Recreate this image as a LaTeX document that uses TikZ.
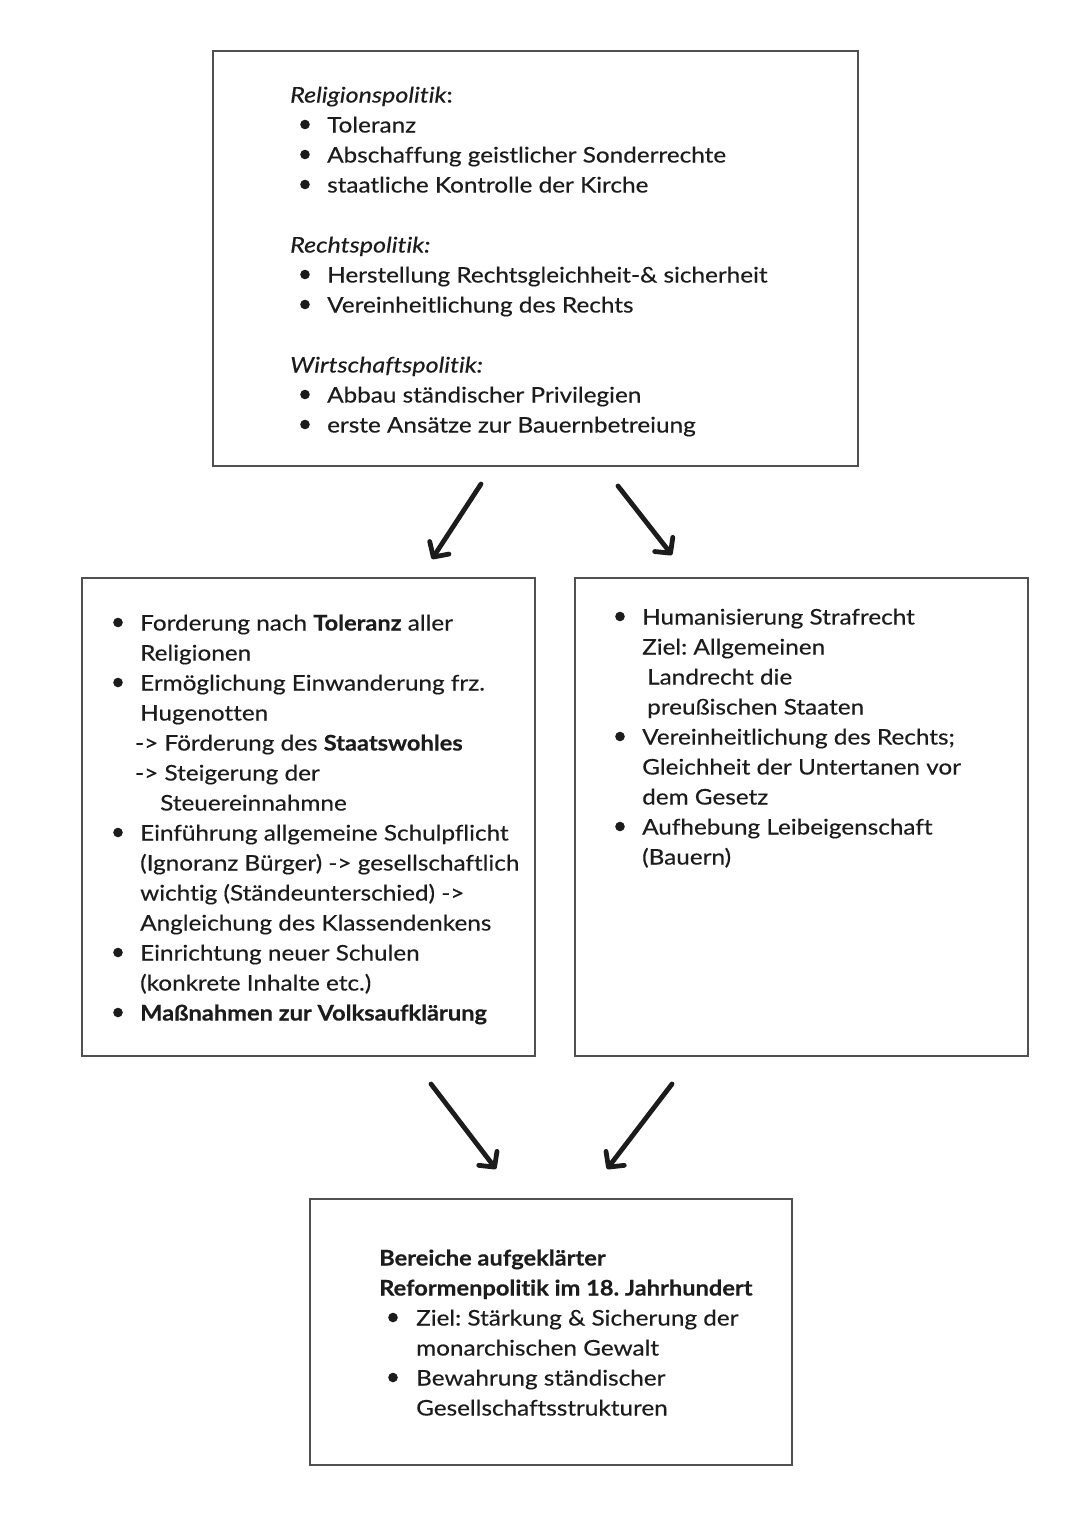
\documentclass[tikz,border=0pt]{standalone}
\usepackage{fontspec}
\setmainfont{Lato}[Ligatures=NoCommon,
  UprightFeatures={FakeStretch=1.13,FakeBold=0.4},
  BoldFeatures={FakeStretch=1.10,FakeBold=0.5},
  ItalicFeatures={FakeStretch=1.17,FakeBold=0.4}]
\usetikzlibrary{arrows.meta}
\definecolor{ink}{HTML}{1C1C1C}
\definecolor{frame}{HTML}{505050}
\newcommand\bul[2]{\fill[ink] (#1,#2-8) circle (4.8pt);}
\begin{document}
\frenchspacing
\begin{tikzpicture}[x=1pt,y=-1pt,
  box/.style={draw=frame,line width=1.4pt,minimum width=#1,inner sep=0pt},
  txt/.style={anchor=base west,inner sep=0pt,text=ink,font=\frenchspacing\fontsize{21.5}{30}\selectfont},
  arr/.style={line width=4.8pt,ink,line cap=round,-{Straight Barb[length=11pt,width=23pt,round]}}]
\useasboundingbox (0,0) rectangle (1080,1527);
% boxes
\node[box=645pt,minimum height=415pt] (top) at (535.5,258.5) {};
\node[box=453pt,minimum height=478pt] (left) at (308.5,817) {};
\node[box=453pt,minimum height=478pt] (right) at (801.5,817) {};
\node[box=482pt,minimum height=266pt] (bottom) at (551,1332) {};
% arrows
\coordinate (a1s) at (481,484);
\coordinate (a1e) at (432,559);
\coordinate (a2s) at (618,486);
\coordinate (a2e) at (672,555);
\coordinate (a3s) at (431,1084);
\coordinate (a3e) at (496,1169);
\coordinate (a4s) at (672,1084);
\coordinate (a4e) at (607,1169);
\draw[arr] (a1s) -- (a1e);
\draw[arr] (a2s) -- (a2e);
\draw[arr] (a3s) -- (a3e);
\draw[arr] (a4s) -- (a4e);
% top box text
\node[txt] (t1) at (290,102.5) {\textit{Religionspolitik}:};
\node[txt] (t2) at (327,132.5) {Toleranz};
\node[txt] (t3) at (327,162.5) {Abschaffung geistlicher Sonderrechte};
\node[txt] (t4) at (327,192.5) {staatliche Kontrolle der Kirche};
\node[txt] (t5) at (290,252.5) {\textit{Rechtspolitik:}};
\node[txt] (t6) at (327,282.5) {Herstellung Rechtsgleichheit-\& sicherheit};
\node[txt] (t7) at (327,312.5) {Vereinheitlichung des Rechts};
\node[txt] (t8) at (290,372.5) {\textit{Wirtschaftspolitik:}};
\node[txt] (t9) at (327,402.5) {Abbau ständischer Privilegien};
\node[txt] (t10) at (327,432.5) {erste Ansätze zur Bauernbetreiung};
\bul{305}{132.5}\bul{305}{162.5}\bul{305}{192.5}
\bul{305}{282.5}\bul{305}{312.5}
\bul{305}{402.5}\bul{305}{432.5}
% left box text
\node[txt] (l1) at (140,630.5) {Forderung nach \textbf{Toleranz} aller};
\node[txt] (l2) at (140,660.5) {Religionen};
\node[txt] (l3) at (140,690.5) {Ermöglichung Einwanderung frz.};
\node[txt] (l4) at (140,720.5) {Hugenotten};
\node[txt] (l5) at (135,750.5) {-> Förderung des \textbf{Staatswohles}};
\node[txt] (l6) at (135,780.5) {-> Steigerung der};
\node[txt] (l7) at (160,810.5) {Steuereinnahmne};
\node[txt] (l8) at (140,840.5) {Einführung allgemeine Schulpflicht};
\node[txt] (l9) at (140,870.5) {(Ignoranz Bürger) -> gesellschaftlich};
\node[txt] (l10) at (140,900.5) {wichtig (Ständeunterschied) ->};
\node[txt] (l11) at (140,930.5) {Angleichung des Klassendenkens};
\node[txt] (l12) at (140,960.5) {Einrichtung neuer Schulen};
\node[txt] (l13) at (140,990.5) {(konkrete Inhalte etc.)};
\node[txt] (l14) at (140,1020.5) {\textbf{Maßnahmen zur Volksaufklärung}};
\bul{118}{630.5}\bul{118}{690.5}\bul{118}{840.5}\bul{118}{960.5}\bul{118}{1020.5}
% right box text
\node[txt] (r1) at (642,624.5) {Humanisierung Strafrecht};
\node[txt] (r2) at (642,654.5) {Ziel: Allgemeinen};
\node[txt] (r3) at (647,684.5) {Landrecht die};
\node[txt] (r4) at (647,714.5) {preußischen Staaten};
\node[txt] (r5) at (642,744.5) {Vereinheitlichung des Rechts;};
\node[txt] (r6) at (642,774.5) {Gleichheit der Untertanen vor};
\node[txt] (r7) at (642,804.5) {dem Gesetz};
\node[txt] (r8) at (642,834.5) {Aufhebung Leibeigenschaft};
\node[txt] (r9) at (642,864.5) {(Bauern)};
\bul{620}{624.5}\bul{620}{744.5}\bul{620}{834.5}
% bottom box text
\node[txt] (b1) at (379,1265.5) {\textbf{Bereiche aufgeklärter}};
\node[txt] (b2) at (379,1295.5) {\textbf{Reformenpolitik im 18. Jahrhundert}};
\node[txt] (b3) at (416,1325.5) {Ziel: Stärkung \& Sicherung der};
\node[txt] (b4) at (416,1355.5) {monarchischen Gewalt};
\node[txt] (b5) at (416,1385.5) {Bewahrung ständischer};
\node[txt] (b6) at (416,1415.5) {Gesellschaftsstrukturen};
\bul{393}{1325.5}\bul{393}{1385.5}
\end{tikzpicture}
\end{document}
